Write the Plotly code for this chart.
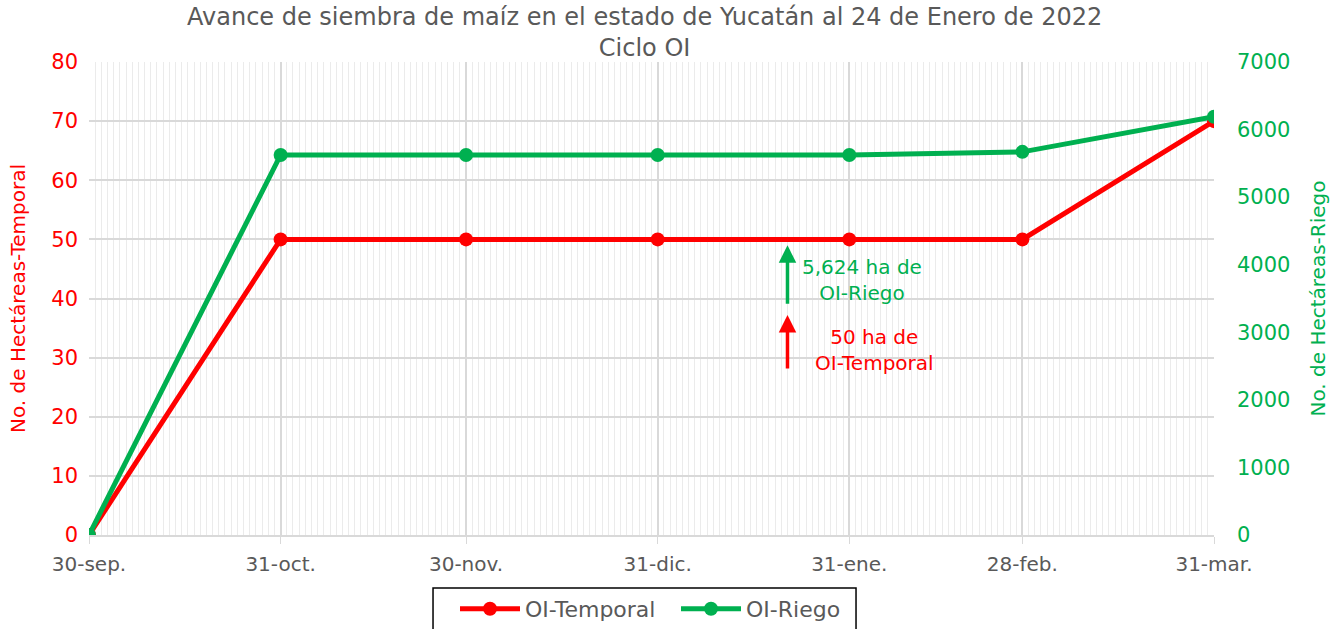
import plotly.graph_objects as go

fechas = ["2021-09-30", "2021-10-31", "2021-11-30", "2021-12-31", "2022-01-31", "2022-02-28", "2022-03-31"]
etiquetas = ["30-sep.", "31-oct.", "30-nov.", "31-dic.", "31-ene.", "28-feb.", "31-mar."]
temporal = [0, 50, 50, 50, 50, 50, 70]
riego = [0, 5624, 5624, 5624, 5624, 5670, 6190]

ROJO = "#FF0000"
VERDE = "#00B050"
GRIS = "#595959"
FONT = "DejaVu Sans"

fig = go.Figure()
fig.add_trace(go.Scatter(x=fechas, y=temporal, name="OI-Temporal", mode="lines+markers",
                         line=dict(color=ROJO, width=5), marker=dict(size=14, color=ROJO), yaxis="y"))
fig.add_trace(go.Scatter(x=fechas, y=riego, name="OI-Riego", mode="lines+markers",
                         line=dict(color=VERDE, width=5), marker=dict(size=14, color=VERDE), yaxis="y2"))

flecha_x = "2022-01-21"
fig.add_annotation(x=flecha_x, y=49, ax=0, ay=60, xref="x", yref="y", showarrow=True,
                   arrowhead=2, arrowsize=1, arrowwidth=3.5, arrowcolor=VERDE, text="")
fig.add_annotation(x=flecha_x, y=37.2, ax=0, ay=55, xref="x", yref="y", showarrow=True,
                   arrowhead=2, arrowsize=1, arrowwidth=3.5, arrowcolor=ROJO, text="")
fig.add_annotation(x="2022-02-02", y=43.2, xref="x", yref="y", showarrow=False,
                   text="5,624 ha de<br>OI-Riego", font=dict(family=FONT, size=20, color=VERDE))
fig.add_annotation(x="2022-02-04", y=31.35, xref="x", yref="y", showarrow=False,
                   text="50 ha de<br>OI-Temporal", font=dict(family=FONT, size=20, color=ROJO))
fig.add_annotation(x=0.494, y=0.996, xref="paper", yref="paper", xanchor="center", yanchor="bottom",
                   showarrow=False,
                   text="Avance de siembra de maíz en el estado de Yucatán al 24 de Enero de 2022<br>Ciclo OI",
                   font=dict(family=FONT, size=24, color=GRIS))

# legend frame (drawn as a shape so its padding matches the reference)
fig.add_shape(type="rect", xref="paper", yref="paper", x0=0.3058, x1=0.6818, y0=-0.112, y1=-0.25,
              line=dict(color="black", width=1.5), fillcolor="white", layer="below")

fig.update_layout(
    width=1340, height=629,
    margin=dict(l=89, r=126, t=62, b=94, autoexpand=False),
    paper_bgcolor="white", plot_bgcolor="white",
    font=dict(family=FONT, color=GRIS, size=19),
    xaxis=dict(type="date", range=["2021-09-30", "2022-03-31"], tickmode="array",
               tickvals=fechas, ticktext=etiquetas, showgrid=True, gridcolor="#d9d9d9", gridwidth=1.5,
               ticks="outside", ticklen=7, tickcolor="#d9d9d9", showline=True, linecolor="#d9d9d9",
               linewidth=1.5, zeroline=False, tickfont=dict(size=20, color=GRIS), automargin=False,
               ticklabelstandoff=3,
               minor=dict(dtick=86400000, tick0="2021-09-30", showgrid=True, gridcolor="#ebebeb", gridwidth=1)),
    yaxis=dict(range=[0, 80], dtick=10, showgrid=True, gridcolor="#d9d9d9", gridwidth=1.5,
               zeroline=False, tickfont=dict(size=21, color=ROJO), ticks="", ticklabelstandoff=10,
               automargin=False,
               title=dict(text="No. de Hectáreas-Temporal", font=dict(size=20, color=ROJO), standoff=20)),
    yaxis2=dict(range=[0, 7000], dtick=1000, overlaying="y", side="right", showgrid=False,
                zeroline=False, tickfont=dict(size=21, color=VERDE), ticklabelstandoff=22,
                automargin=False,
                title=dict(text="No. de Hectáreas-Riego", font=dict(size=20, color=VERDE), standoff=21)),
    legend=dict(orientation="h", x=(455 - 89) / 1125, xanchor="left", y=-0.112, yanchor="top",
                borderwidth=0, font=dict(size=22, color=GRIS),
                itemwidth=60, entrywidth=146, bgcolor="rgba(0,0,0,0)"),
)

fig.write_html("out.html", config={"displayModeBar": False},
               post_script="document.body.style.margin='0';")
